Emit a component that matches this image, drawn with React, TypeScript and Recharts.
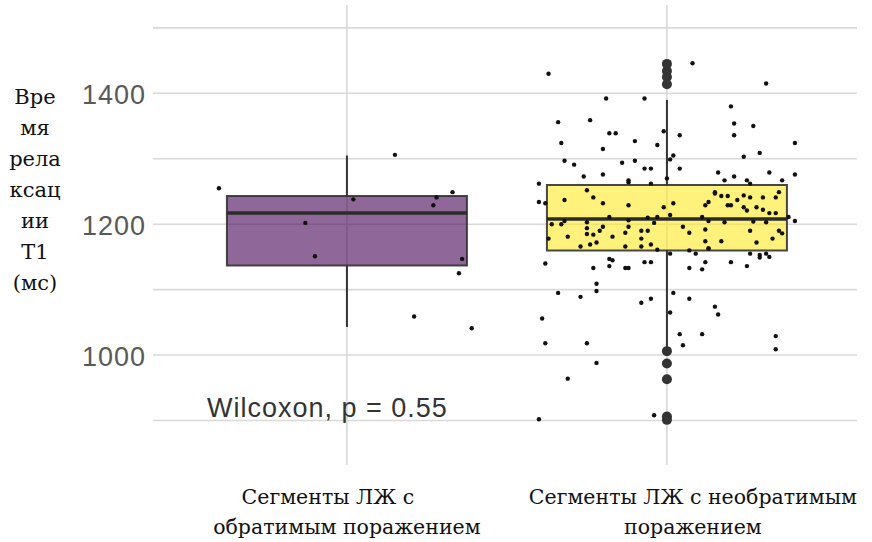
import { ComposedChart, Scatter, XAxis, YAxis, ReferenceArea, ReferenceLine } from "recharts";

// группы по оси X
const categories = [1, 2];
const categoryLabels: Record<number, string[]> = {
  1: ["Сегменты ЛЖ с", "обратимым поражением"],
  2: ["Сегменты ЛЖ с необратимым", "поражением"],
};

const yGridTicks = [900, 1000, 1100, 1200, 1300, 1400, 1500];
const yLabelTicks = [1000, 1200, 1400];

// [min, q1, median, q3, max]
const reversibleBox = [1043, 1137, 1217, 1243, 1305];
const irreversibleBox = [1008, 1160, 1208, 1260, 1390];

const irreversibleOutliers = [1445, 1434, 1425, 1414, 1006, 987, 963, 906, 901];

// [смещение джиттера, значение]
const reversiblePoints = [
  [-0.4, 1255], [0.15, 1306], [0.02, 1238], [0.28, 1241], [0.33, 1249], [0.27, 1229],
  [-0.13, 1202], [-0.1, 1151], [0.36, 1147], [0.35, 1125], [0.21, 1059], [0.39, 1041],
];

const irreversiblePoints = [
  [-0.37, 1430], [0.08, 1446], [0.31, 1415], [-0.19, 1392], [-0.07, 1392], [0.2, 1380],
  [-0.34, 1356], [-0.24, 1359], [0.21, 1354], [0.27, 1350], [-0.18, 1339], [-0.16, 1339],
  [-0.01, 1342], [0.04, 1336], [0.21, 1336], [-0.33, 1324], [-0.1, 1327], [-0.03, 1321],
  [0.4, 1324], [-0.2, 1315], [0.29, 1309], [-0.32, 1297], [-0.29, 1291], [-0.14, 1294],
  [-0.1, 1297], [0.01, 1299], [0.02, 1305], [0.24, 1303], [-0.26, 1273], [-0.2, 1276],
  [-0.07, 1285], [-0.05, 1285], [0.04, 1285], [0.16, 1279], [0.32, 1279], [0.4, 1276],
  [0.18, 1267], [0.21, 1273], [0.25, 1267], [0.36, 1267], [-0.12, 1267], [-0.12, 1264],
  [0.0, 1270], [-0.4, 1262], [-0.05, 1262], [0.26, 1262], [-0.4, 1234], [-0.38, 1232],
  [-0.25, 1252], [-0.32, 1237], [-0.23, 1241], [-0.2, 1232], [-0.12, 1229], [-0.01, 1226],
  [-0.18, 1211], [-0.06, 1210], [-0.03, 1211], [-0.36, 1200], [-0.33, 1200], [-0.32, 1205],
  [-0.25, 1203], [-0.25, 1194], [-0.2, 1196], [-0.12, 1206], [-0.12, 1196], [-0.04, 1202],
  [-0.37, 1178], [-0.31, 1181], [-0.25, 1185], [-0.23, 1184], [-0.21, 1190], [-0.17, 1181],
  [-0.13, 1187], [-0.08, 1190], [-0.06, 1190], [-0.08, 1178], [-0.27, 1166], [-0.24, 1169],
  [-0.22, 1172], [-0.13, 1166], [-0.08, 1166], [-0.05, 1169], [-0.03, 1161], [-0.18, 1147],
  [0.15, 1249], [0.15, 1247], [0.17, 1243], [0.19, 1243], [0.24, 1244], [0.26, 1241],
  [0.3, 1241], [0.34, 1241], [0.35, 1249], [0.13, 1234], [0.12, 1229], [0.22, 1237],
  [0.19, 1229], [0.2, 1229], [0.24, 1226], [0.25, 1221], [0.28, 1226], [0.3, 1222],
  [0.32, 1217], [0.34, 1217], [0.02, 1232], [0.11, 1211], [0.13, 1205], [0.18, 1203],
  [0.01, 1214], [0.27, 1204], [0.31, 1203], [0.38, 1211], [0.4, 1205], [0.05, 1196],
  [0.07, 1187], [0.12, 1192], [0.26, 1190], [0.35, 1190], [0.36, 1186], [0.12, 1174],
  [0.17, 1174], [0.28, 1172], [0.33, 1178], [0.13, 1163], [0.13, 1163], [0.07, 1160],
  [0.26, 1155], [0.29, 1153], [0.31, 1155], [0.32, 1150], [0.01, 1155], [0.09, 1155],
  [0.29, 1149], [-0.38, 1140], [-0.23, 1133], [-0.18, 1136], [-0.17, 1145], [-0.13, 1133],
  [-0.12, 1133], [-0.07, 1142], [-0.05, 1142], [0.07, 1133], [0.11, 1131], [0.12, 1142],
  [0.2, 1142], [0.25, 1136], [-0.22, 1109], [-0.34, 1095], [-0.27, 1089], [-0.22, 1098],
  [-0.08, 1080], [-0.05, 1086], [0.02, 1095], [0.07, 1086], [0.15, 1074], [0.16, 1062],
  [0.01, 1065], [-0.39, 1056], [0.04, 1032], [0.11, 1032], [0.34, 1029], [-0.38, 1018],
  [-0.25, 1018], [0.05, 1015], [0.34, 1009], [-0.22, 988], [-0.31, 964], [-0.4, 902],
  [-0.04, 908],
];

const boxes = [
  { x: 1, stats: reversibleBox, fill: "#440154" },
  { x: 2, stats: irreversibleBox, fill: "#FDE725" },
];

const halfWidth = 0.375;
const serif = "'DejaVu Serif', 'Liberation Serif', serif";
const sans = "'Liberation Sans', Arial, sans-serif";
const xDomain = [0.394, 2.594];
const yDomain = [832, 1535];
// полутолщина линий сетки в единицах осей (~1.6px)
const gridHalfY = 1.2;
const gridHalfX = 0.0025;

const jitterData = [
  ...reversiblePoints.map(([dx, v]) => ({ x: 1 + dx, y: v })),
  ...irreversiblePoints.map(([dx, v]) => ({ x: 2 + dx, y: v })),
];
const outlierData = irreversibleOutliers.map((v) => ({ x: 2, y: v }));

const YTick = ({ x, y, payload }: any) => {
  if (!yLabelTicks.includes(payload.value)) return null;
  return (
    <text x={x} y={y + 11} textAnchor="end" fontSize={27} letterSpacing={1} fill="#595959" fontFamily={sans}>
      {payload.value}
    </text>
  );
};

const XTick = ({ x, y, payload }: any) => {
  const lines = categoryLabels[payload.value] || [];
  const shifts = payload.value === 1 ? [-19, 0] : [26, 26];
  return (
    <g>
      {lines.map((line, i) => (
        <text key={i} x={x + shifts[i]} y={y + 39 + i * 30} textAnchor="middle" fontSize={20.5} fill="#111" fontFamily={serif}>
          {line}
        </text>
      ))}
    </g>
  );
};

const dot = (r: number, fill: string) => (props: any) => <circle cx={props.cx} cy={props.cy} r={r} fill={fill} />;

export default function App() {
  return (
    <div style={{ position: "absolute", left: 0, top: 0, width: 872, height: 542, background: "#fff" }}>
      <ComposedChart width={872} height={542} margin={{ top: 5, right: 15, bottom: 0, left: 0 }}>
        <XAxis
          type="number"
          dataKey="x"
          domain={xDomain}
          ticks={categories}
          allowDataOverflow
          axisLine={false}
          tickLine={false}
          tickSize={0}
          tickMargin={0}
          height={77}
          tick={<XTick />}
        />
        <YAxis
          type="number"
          dataKey="y"
          domain={yDomain}
          ticks={yGridTicks}
          allowDataOverflow
          axisLine={false}
          tickLine={false}
          tickSize={0}
          tickMargin={7}
          width={153}
          tick={<YTick />}
        />
        {yGridTicks.map((v) => (
          <ReferenceArea key={"gy" + v} y1={v - gridHalfY} y2={v + gridHalfY} fill="#d9d9d9" fillOpacity={1} />
        ))}
        {categories.map((v) => (
          <ReferenceArea key={"gx" + v} x1={v - gridHalfX} x2={v + gridHalfX} fill="#d9d9d9" fillOpacity={1} />
        ))}
        {boxes.map((b) => (
          <ReferenceLine
            key={"wu" + b.x}
            segment={[{ x: b.x, y: b.stats[3] }, { x: b.x, y: b.stats[4] }]}
            stroke="#333"
            strokeWidth={2}
          />
        ))}
        {boxes.map((b) => (
          <ReferenceLine
            key={"wl" + b.x}
            segment={[{ x: b.x, y: b.stats[0] }, { x: b.x, y: b.stats[1] }]}
            stroke="#333"
            strokeWidth={2}
          />
        ))}
        {boxes.map((b) => (
          <ReferenceArea
            key={"box" + b.x}
            x1={b.x - halfWidth}
            x2={b.x + halfWidth}
            y1={b.stats[1]}
            y2={b.stats[3]}
            fill={b.fill}
            fillOpacity={0.6}
            stroke="#333"
            strokeWidth={2}
            strokeOpacity={0.9}
          />
        ))}
        {boxes.map((b) => (
          <ReferenceLine
            key={"med" + b.x}
            segment={[{ x: b.x - halfWidth, y: b.stats[2] }, { x: b.x + halfWidth, y: b.stats[2] }]}
            stroke="#2b2b2b"
            strokeWidth={3.5}
          />
        ))}
        <Scatter data={outlierData} fill="#333" shape={dot(5, "#333")} isAnimationActive={false} />
        <Scatter data={jitterData} fill="#111" shape={dot(2.2, "#111")} isAnimationActive={false} />
      </ComposedChart>
      <div
        style={{
          position: "absolute",
          left: 0,
          top: 82,
          width: 70,
          textAlign: "center",
          fontFamily: serif,
          fontSize: 21,
          lineHeight: "31px",
          color: "#111",
        }}
      >
        {["Вре", "мя", "рела", "ксац", "ии", "T1", "(мс)"].map((t) => (
          <div key={t}>{t}</div>
        ))}
      </div>
      <div
        style={{
          position: "absolute",
          left: 207,
          top: 393,
          fontFamily: sans,
          fontSize: 27,
          letterSpacing: 1,
          lineHeight: "normal",
          color: "#333",
          whiteSpace: "nowrap",
        }}
      >
        Wilcoxon, p = 0.55
      </div>
    </div>
  );
}
